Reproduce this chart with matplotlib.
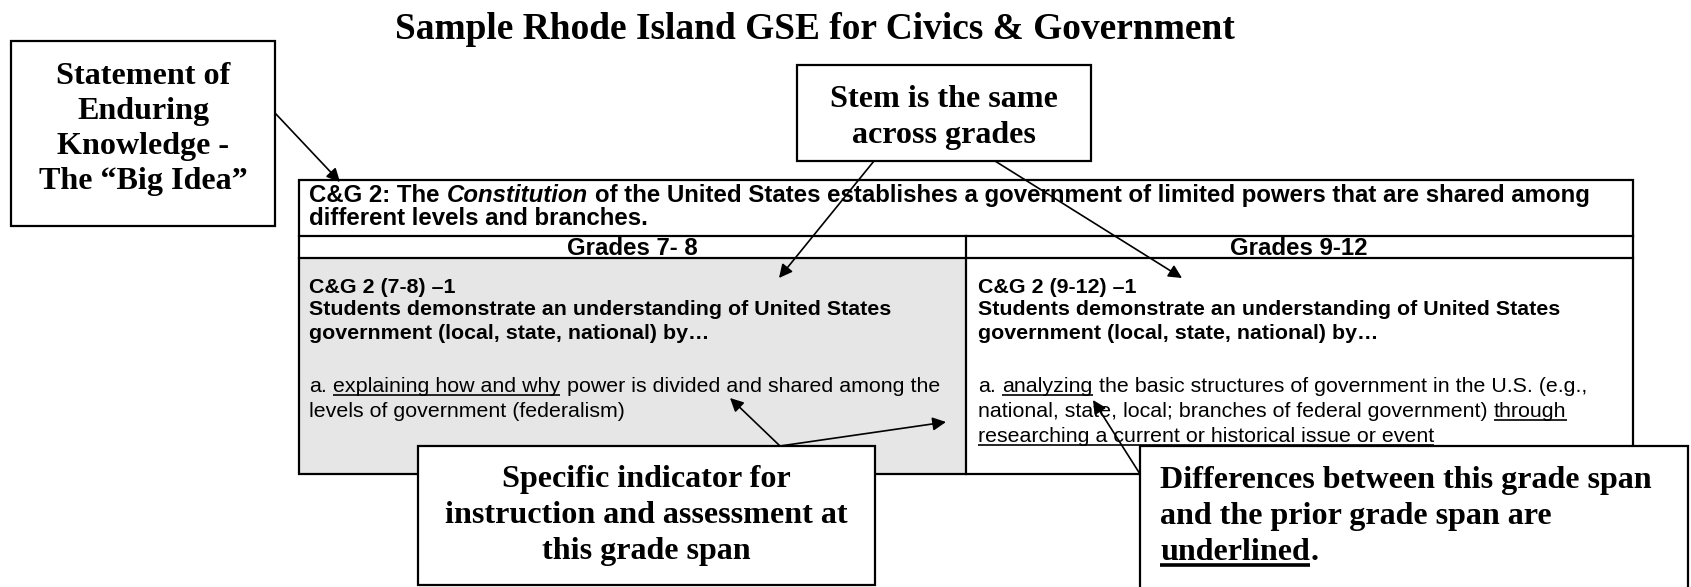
import matplotlib
matplotlib.use('Agg')
import matplotlib.pyplot as plt
from matplotlib.patches import Rectangle

SERIF = 'Liberation Serif'   # Times-like, used for the callouts
SANS = 'Liberation Sans'     # Arial-like, used inside the table

# ---- text content -------------------------------------------------------
title = 'Sample Rhode Island GSE for Civics & Government'
big_idea_lines = ['Statement of', 'Enduring', 'Knowledge -', 'The \u201cBig Idea\u201d']
stem_lines = ['Stem is the same', 'across grades']
indicator_lines = ['Specific indicator for', 'instruction and assessment at', 'this grade span']
# (text, underlined) -- a leading space means "word gap before this run"
diff_lines = [[('Differences between this grade span', False)],
              [('and the prior grade span are', False)],
              [('underlined', True), ('.', False)]]

statement_runs = [[('C&G 2: The', 'normal'), (' Constitution', 'italic'),
                   (' of the United States establishes a government of limited powers that are shared among', 'normal')],
                  [('different levels and branches.', 'normal')]]
grade_headers = ['Grades 7- 8', 'Grades 9-12']
gse_codes = ['C&G 2 (7-8) \u20131', 'C&G 2 (9-12) \u20131']
stem_text = ['Students demonstrate an understanding of United States',
             'government (local, state, national) by\u2026']
left_indicator = [[('a.', False), (' explaining how and why', True),
                   (' power is divided and shared among the', False)],
                  [('levels of government (federalism)', False)]]
right_indicator = [[('a.', False), (' analyzing', True),
                    (' the basic structures of government in the U.S. (e.g.,', False)],
                   [('national, state, local; branches of federal government)', False), (' through', True)],
                   [('researching a current or historical issue or event', True)]]

# ---- canvas in pixel units ---------------------------------------------
fig = plt.figure(figsize=(16.91, 5.87), dpi=100)
ax = fig.add_axes([0, 0, 1, 1])
ax.set_xlim(0, 1691)
ax.set_ylim(587, 0)
ax.axis('off')
r = fig.canvas.get_renderer()


def width(s, size, **kw):
    t = ax.text(0, 0, s, fontsize=size, **kw)
    w = t.get_window_extent(r).width
    t.remove()
    return w


def fit(s, target, **kw):
    return 20 * target / width(s, 20, **kw)


def runs_line(x, y, runs, size, family, weight='normal', ul_lw=1.2, ul_off=0.12, z=4):
    sp = width('a a', size, family=family, weight=weight) - width('aa', size, family=family, weight=weight)
    for txt, flag in runs:
        style, ul = ('normal', flag) if isinstance(flag, bool) else (flag, False)
        if txt.startswith(' '):
            x += sp
            txt = txt.lstrip()
        t = ax.text(x, y, txt, fontsize=size, family=family, weight=weight,
                    style=style, va='baseline', ha='left', zorder=z)
        bb = t.get_window_extent(r)
        x1 = ax.transData.inverted().transform((bb.x1, bb.y0))[0]
        if ul:
            uy = y + size * 100 / 72 * ul_off
            ax.plot([x, x1], [uy, uy], color='black', lw=ul_lw, solid_capstyle='butt', zorder=z)
        x = x1 + 0.5


def box(x0, y0, x1, y1, lw=1.6, fc='white', z=5):
    ax.add_patch(Rectangle((x0, y0), x1 - x0, y1 - y0, fc=fc, ec='black', lw=lw, zorder=z))


def arrow(start, tip, z=6):
    ax.annotate('', xy=tip, xytext=start,
                arrowprops=dict(arrowstyle='-|>', color='black', lw=1.2,
                                mutation_scale=20, shrinkA=0, shrinkB=0),
                zorder=z)


title_size = fit(title, 840, family=SERIF, weight='bold')
call_size = fit(indicator_lines[1], 403, family=SERIF, weight='bold')
stmt_size = fit(''.join(t for t, _ in statement_runs[0]), 1282, family=SANS, weight='bold')
cellb_size = fit(stem_text[0], 580, family=SANS, weight='bold')
cell_size = fit(''.join(t for t, _ in left_indicator[0]), 628, family=SANS)

# ---- title --------------------------------------------------------------
ax.text(815, 39, title, fontsize=title_size, family=SERIF, weight='bold',
        ha='center', va='baseline')

# ---- table --------------------------------------------------------------
tl, tr, tt, tb = 299, 1633, 180, 474
row1, row2, col = 236, 258, 966
ax.add_patch(Rectangle((tl, row2), col - tl, tb - row2, fc='#e6e6e6', ec='none', zorder=1))
ax.add_patch(Rectangle((tl, tt), tr - tl, tb - tt, fc='none', ec='black', lw=1.6, zorder=2))
ax.plot([tl, tr], [row1, row1], color='black', lw=1.6, zorder=2)
ax.plot([tl, tr], [row2, row2], color='black', lw=1.6, zorder=2)
ax.plot([col, col], [row1, tb], color='black', lw=1.6, zorder=2)

for y, runs in zip([202, 225], statement_runs):
    runs_line(309, y, runs, stmt_size, SANS, weight='bold')

for cx, h in zip([632, 1299], grade_headers):
    ax.text(cx, 255, h, fontsize=stmt_size, family=SANS, weight='bold',
            ha='center', va='baseline', zorder=4)

for x0, code, ind in zip([309, 978], gse_codes, [left_indicator, right_indicator]):
    ax.text(x0, 293, code, fontsize=cellb_size, family=SANS, weight='bold', va='baseline', zorder=4)
    for y, s in zip([315, 339], stem_text):
        ax.text(x0, y, s, fontsize=cellb_size, family=SANS, weight='bold', va='baseline', zorder=4)
    for y, runs in zip([392, 417, 442], ind):
        runs_line(x0, y, runs, cell_size, SANS)

# ---- callout boxes ------------------------------------------------------
box(11, 41, 275, 226)
for y, s in zip([84, 119, 154, 189], big_idea_lines):
    ax.text(143, y, s, fontsize=call_size, family=SERIF, weight='bold',
            ha='center', va='baseline', zorder=7)

box(797, 65, 1091, 161)
for y, s in zip([107, 143], stem_lines):
    ax.text(944, y, s, fontsize=call_size, family=SERIF, weight='bold',
            ha='center', va='baseline', zorder=7)

box(418, 446, 875, 585)
for y, s in zip([487, 523, 559], indicator_lines):
    ax.text(646, y, s, fontsize=call_size, family=SERIF, weight='bold',
            ha='center', va='baseline', zorder=7)

box(1140, 446, 1688, 620)
for y, runs in zip([488, 524, 560], diff_lines):
    runs_line(1160, y, runs, call_size, SERIF, weight='bold', ul_lw=2.6, ul_off=0.14, z=7)

# ---- arrows -------------------------------------------------------------
arrow((275, 113), (340, 182))
arrow((874, 161), (779, 278))
arrow((995, 161), (1182, 278))
arrow((780, 446), (730, 398))
arrow((780, 446), (946, 422))
arrow((1140, 474), (1093, 400))

fig.savefig('out.png', dpi=100)
